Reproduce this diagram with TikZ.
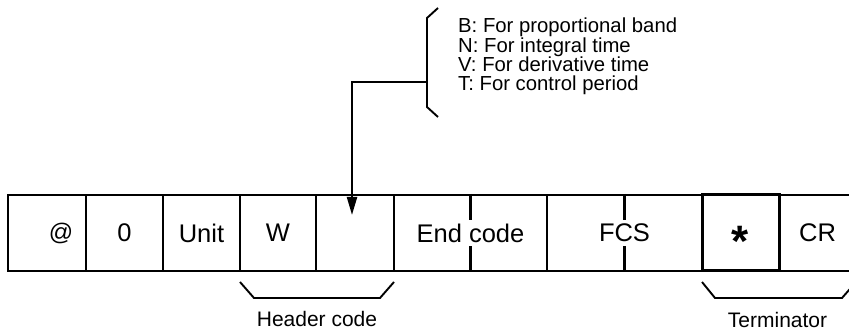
\documentclass[tikz,border=0pt]{standalone}
\usepackage{fontspec}
\setmainfont{Liberation Sans}
\usetikzlibrary{arrows.meta}
\newcommand{\cellfont}{\fontsize{25.5}{30}\selectfont}
\newcommand{\notefont}{\fontsize{20.3}{19.2}\selectfont}
\newcommand{\tagfont}{\fontsize{21}{25}\selectfont}
\tikzset{
  cell/.style={draw, line width=2.2pt, minimum height=76pt, minimum width=77pt, inner sep=0pt, font=\cellfont},
  brace/.style={line width=1.9pt},
}

\begin{document}
\begin{tikzpicture}[x=1pt,y=1pt]
\useasboundingbox (0,0) rectangle (849,331);
% the frame
\node[cell, minimum width=78pt] (at) at (47,98) {};
\node[cell] (zero) at (124.5,98) {0};
\node[cell] (unit) at (201.5,98) {Unit};
\node[cell, minimum width=76pt] (w) at (278,98) {W};
\node[cell, minimum width=78pt] (cmd) at (355,98) {};
\node[cell, minimum width=153pt] (endcode) at (470.5,98) {};
\node[cell, minimum width=155pt] (fcs) at (624.5,98) {};
\node[cell, line width=1.8pt] (cr) at (817.5,98) {CR};
\node[cell, line width=3pt] (star) at (740.5,98) {};
\draw[line width=2.2pt] (endcode.north) -- (endcode.south);
\draw[line width=2.2pt] (fcs.north) -- (fcs.south);
\node[fill=white, inner sep=4pt, font=\cellfont] (endtext) at (endcode) {End code};
\node[fill=white, inner sep=4pt, font=\cellfont] (fcstext) at (fcs) {FCS};
\node[inner sep=0pt, font=\fontsize{24}{28}\selectfont] (attext) at (61,97.5) {@};
\node[anchor=base, inner sep=0pt, font=\fontsize{44}{44}\selectfont\bfseries] (startext) at (740.5,74) {*};
% parameter choice
\draw[brace] (438,323) -- (427,313) -- (427,224) -- (438,214);
\node[anchor=north west, inner sep=0pt, align=left, font=\notefont] (modes) at (458,313)
  {B: For proportional band\\N: For integral time\\V: For derivative time\\T: For control period};
\coordinate (fork) at (427,249);
\coordinate (tip) at (352,116);
\draw[line width=2.2pt, -{Triangle[length=18pt,width=10pt]}] (fork) -| (tip);
% groups below
\draw[brace] (240,49) -- (254,33) -- (380,33) -- (394,49);
\node[anchor=base, inner sep=0pt, font=\tagfont] (header) at (317,4) {Header code};
\draw[brace] (702,49) -- (715,33) -- (842,33) -- (856,49);
\node[anchor=base, inner sep=0pt, font=\tagfont] (terminator) at (777.5,3) {Terminator};
\end{tikzpicture}
\end{document}
